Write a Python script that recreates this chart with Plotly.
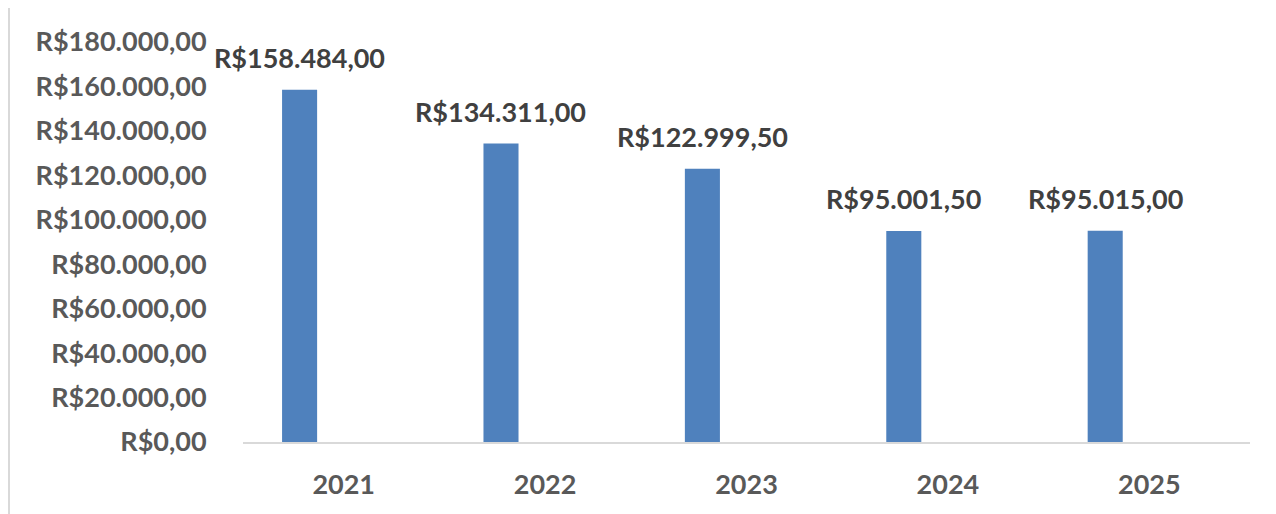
import plotly.graph_objects as go

years = ["2021", "2022", "2023", "2024", "2025"]
values = [158484.00, 134311.00, 122999.50, 95001.50, 95015.00]
y_ticks = [0, 20000, 40000, 60000, 80000, 100000, 120000, 140000, 160000, 180000]


def brl(v):
    s = f"{v:,.2f}"
    s = s.replace(",", "X").replace(".", ",").replace("X", ".")
    return "R$" + s


FONT = "Lato"
FS = 27
BAR_W = 0.174
BAR_OFF = -0.306

fig = go.Figure()
fig.add_trace(go.Bar(
    x=years, y=values,
    marker=dict(color="#4f81bd", line=dict(width=0)),
    width=BAR_W, offset=BAR_OFF,
    hoverinfo="skip",
))

for i, v in enumerate(values):
    fig.add_annotation(
        x=i + BAR_OFF + BAR_W / 2, y=v, text=brl(v), showarrow=False,
        yshift=14, yanchor="bottom", xanchor="center",
        font=dict(family=FONT, size=FS, color="#404040", weight="bold"),
    )

fig.add_shape(
    type="rect", xref="paper", yref="paper",
    x0=-0.2324, x1=1.05, y0=-0.2, y1=1.09,
    line=dict(color="#d9d9d9", width=2), fillcolor="rgba(0,0,0,0)",
    layer="below",
)

fig.update_layout(
    width=1276, height=514,
    margin=dict(l=235, r=34, t=34, b=80, pad=0),
    plot_bgcolor="white", paper_bgcolor="white",
    showlegend=False,
    font=dict(family=FONT, size=FS, color="#595959"),
)
fig.update_xaxes(
    type="category", range=[-0.5, len(years) - 0.5], automargin=False,
    showgrid=False, zeroline=False,
    showline=True, linecolor="#d9d9d9", linewidth=2,
    ticks="outside", ticklen=18, tickcolor="rgba(0,0,0,0)",
    tickfont=dict(family=FONT, size=FS, color="#595959", weight="bold"),
)
fig.update_yaxes(
    range=[0, 180000], tickvals=y_ticks, ticktext=[brl(t) for t in y_ticks],
    automargin=False,
    showgrid=False, zeroline=False, showline=False,
    ticks="outside", ticklen=30, tickcolor="rgba(0,0,0,0)",
    tickfont=dict(family=FONT, size=FS, color="#595959", weight="bold"),
)

fig.write_html("out.html")
